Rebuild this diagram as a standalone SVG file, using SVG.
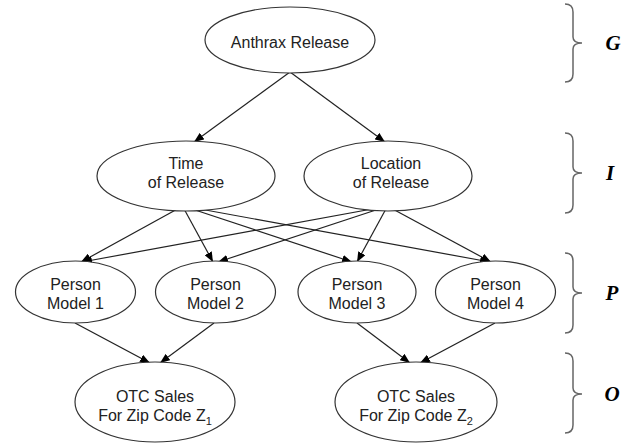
<svg xmlns="http://www.w3.org/2000/svg" width="632" height="444" viewBox="0 0 632 444">
<style>
.n ellipse{fill:#fff;stroke:#333;stroke-width:1.2}
.n text{font-family:"Liberation Sans",Arial,sans-serif;font-size:16px;fill:#222;text-anchor:middle}
#edges line{stroke:#222;stroke-width:1.2;marker-end:url(#ah)}
.br{fill:none;stroke:#666;stroke-width:1.5}
.bl{font-family:"Liberation Serif","Times New Roman",serif;font-size:21px;font-weight:bold;font-style:italic;fill:#000;text-anchor:middle}
</style>
<defs>
<marker id="ah" viewBox="0 0 10 8" refX="10" refY="4" markerWidth="10" markerHeight="8" markerUnits="userSpaceOnUse" orient="auto">
<path d="M0,0 L10,4 L0,8 z" fill="#000"/>
</marker>
</defs>
<rect width="632" height="444" fill="#fff"/>
<g id="edges">
<line x1="290" y1="72" x2="194" y2="142"/>
<line x1="290" y1="72" x2="385" y2="142"/>
<line x1="181" y1="207" x2="81" y2="262"/>
<line x1="183" y1="207" x2="213" y2="262"/>
<line x1="186" y1="207" x2="352" y2="262"/>
<line x1="189" y1="207" x2="490" y2="262"/>
<line x1="383" y1="207" x2="82" y2="262"/>
<line x1="385" y1="207" x2="218" y2="262"/>
<line x1="387" y1="207" x2="357" y2="262"/>
<line x1="389" y1="207" x2="491" y2="262"/>
<line x1="75" y1="323" x2="150" y2="363"/>
<line x1="214" y1="323" x2="160" y2="363"/>
<line x1="357" y1="323" x2="410" y2="363"/>
<line x1="495" y1="323" x2="420" y2="363"/>
</g>
<g id="anthrax" class="n"><ellipse cx="290" cy="40" rx="85" ry="33"/><text x="290" y="48">Anthrax Release</text></g>
<g id="time" class="n"><ellipse cx="186" cy="176" rx="89" ry="35"/><text x="186" y="169">Time</text><text x="186" y="188">of Release</text></g>
<g id="location" class="n"><ellipse cx="388" cy="176" rx="84" ry="35"/><text x="391" y="169">Location</text><text x="391" y="188">of Release</text></g>
<g id="pm1" class="n"><ellipse cx="75.5" cy="292" rx="60" ry="31"/><text x="75.5" y="290">Person</text><text x="75.5" y="309">Model 1</text></g>
<g id="pm2" class="n"><ellipse cx="215.5" cy="292" rx="60" ry="31"/><text x="215.5" y="290">Person</text><text x="215.5" y="309">Model 2</text></g>
<g id="pm3" class="n"><ellipse cx="357" cy="292" rx="59" ry="31"/><text x="357" y="290">Person</text><text x="357" y="309">Model 3</text></g>
<g id="pm4" class="n"><ellipse cx="495.5" cy="292" rx="60" ry="31"/><text x="495.5" y="290">Person</text><text x="495.5" y="309">Model 4</text></g>
<g id="otc1" class="n"><ellipse cx="155" cy="402" rx="80" ry="40"/><text x="155" y="402">OTC Sales</text><text x="155" y="421">For Zip Code Z<tspan font-size="11" dy="4">1</tspan></text></g>
<g id="otc2" class="n"><ellipse cx="416" cy="402" rx="81" ry="40"/><text x="416" y="402">OTC Sales</text><text x="416" y="421">For Zip Code Z<tspan font-size="11" dy="4">2</tspan></text></g>
<g id="braces">
<path class="br" d="M565,4 Q573,4 573,12 L573,37 Q573,43 582,43 Q573,43 573,49 L573,74 Q573,82 565,82"/>
<text class="bl" x="613" y="50">G</text>
<path class="br" d="M565,133 Q573,133 573,141 L573,167 Q573,173 582,173 Q573,173 573,179 L573,205 Q573,213 565,213"/>
<text class="bl" x="610" y="180">I</text>
<path class="br" d="M565,253 Q573,253 573,261 L573,287 Q573,293 582,293 Q573,293 573,299 L573,325 Q573,333 565,333"/>
<text class="bl" x="612" y="300">P</text>
<path class="br" d="M565,353 Q573,353 573,361 L573,388 Q573,394 582,394 Q573,394 573,400 L573,425 Q573,433 565,433"/>
<text class="bl" x="612" y="401">O</text>
</g>
</svg>
